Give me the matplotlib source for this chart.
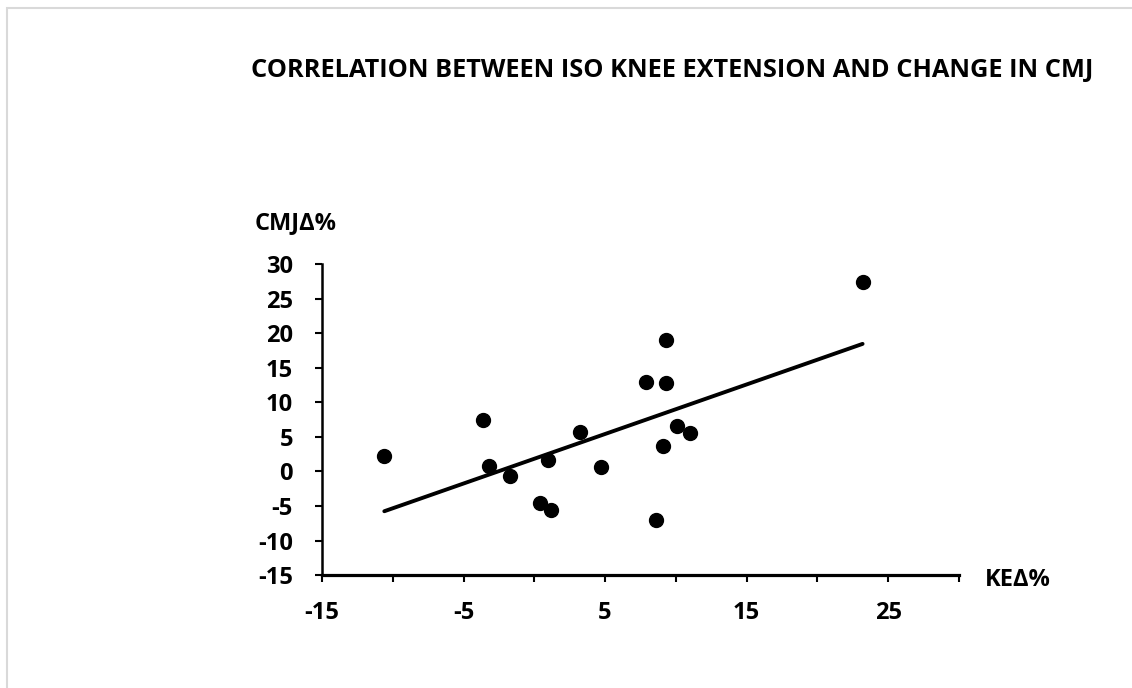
import matplotlib.pyplot as plt
from matplotlib.patches import Rectangle
import numpy as np

# change in knee extension strength (%) vs change in CMJ (%)
ke_change = [-10.6, -3.6, -3.2, -1.7, 0.4, 1.2, 1.0, 3.2, 4.7,
             7.9, 9.3, 9.3, 10.1, 11.0, 9.1, 8.6, 23.2]
cmj_change = [2.2, 7.4, 0.8, -0.6, -4.6, -5.6, 1.7, 5.7, 0.7,
              12.9, 12.8, 19.0, 6.6, 5.5, 3.7, -7.1, 27.5]

x_ticks = list(range(-15, 31, 5))
x_labels = ['-15', '', '-5', '', '5', '', '15', '', '25', '']
y_ticks = list(range(-15, 31, 5))

plt.rcParams['font.family'] = ['Open Sans', 'DejaVu Sans']
plt.rcParams['axes.unicode_minus'] = False

fig = plt.figure(figsize=(11.32, 6.88), dpi=100)
# light grey chart-area border (left and top visible)
fig.patches.append(Rectangle((7 / 1132, -0.1), 1.2, (688 - 8) / 688 + 0.1,
                             transform=fig.transFigure, fill=False,
                             edgecolor='#d9d9d9', linewidth=1.5))

ax = fig.add_axes([0.2845, 0.1642, 0.5625, 0.4516])

ax.scatter(ke_change, cmj_change, s=100, color='black', zorder=3)

# linear trendline
k, b = np.polyfit(ke_change, cmj_change, 1)
xs = np.array([min(ke_change), max(ke_change)])
ax.plot(xs, k * xs + b, color='black', linewidth=2.8, solid_capstyle='round')

ax.set_xlim(-15, 30)
ax.set_ylim(-15, 30)
ax.set_xticks(x_ticks)
ax.set_xticklabels(x_labels)
ax.set_yticks(y_ticks)

for s in ['top', 'right']:
    ax.spines[s].set_visible(False)
ax.spines['bottom'].set_linewidth(2.3)
ax.spines['left'].set_linewidth(1.8)

ax.tick_params(axis='x', direction='out', length=5, width=1.5, pad=14,
               labelsize=17)
ax.tick_params(axis='y', direction='out', length=5, width=1.5, pad=16,
               labelsize=17)
for lab in ax.get_xticklabels() + ax.get_yticklabels():
    lab.set_fontweight('bold')

fig.text(0.594, 0.897, 'CORRELATION BETWEEN ISO KNEE EXTENSION AND CHANGE IN CMJ',
         ha='center', va='center', fontsize=18.3, fontweight='bold')
fig.text(0.2253, 0.676, 'CMJΔ%', ha='left', va='center', fontsize=17,
         fontweight='bold')
fig.text(0.870, 0.1577, 'KEΔ%', ha='left', va='center', fontsize=17,
         fontweight='bold')

fig.savefig('out.png', dpi=100)
